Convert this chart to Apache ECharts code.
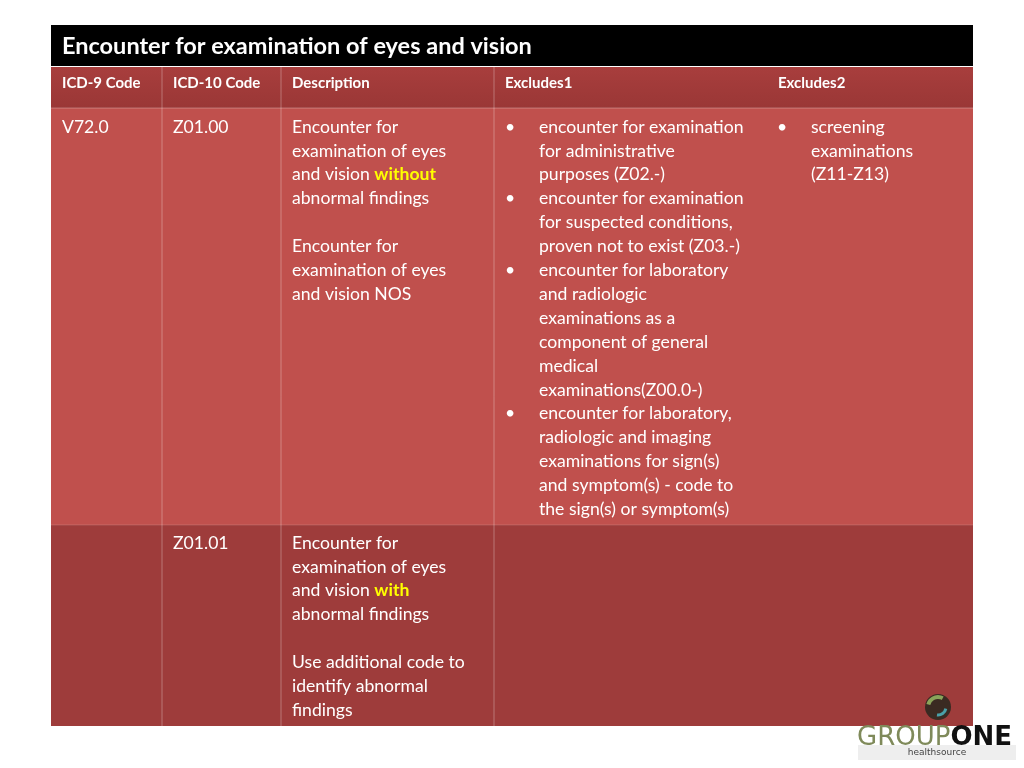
<!DOCTYPE html>
<html lang="en">
<head>
    <meta charset="UTF-8">
    <title>Encounter for examination of eyes and vision</title>
    <script src="https://cdn.jsdelivr.net/npm/echarts@6.0.0/dist/echarts.min.js"></script>
</head>
<body style="margin:0;background:#fff;">
<div id="main" style="width:1024px;height:768px;"></div>
<script type="text/javascript">
    var title = 'Encounter for examination of eyes and vision';
    var headers = ['ICD-9 Code', 'ICD-10 Code', 'Description', 'Excludes1', 'Excludes2'];
    var colX = [51, 162, 281, 494, 767, 973];
    // {y|...} marks the yellow words
    var row1 = {
        icd9: ['V72.0'],
        icd10: ['Z01.00'],
        desc: ['Encounter for', 'examination of eyes', 'and vision {y|without}', 'abnormal findings', '',
            'Encounter for', 'examination of eyes', 'and vision NOS'],
        excl1: [
            ['encounter for examination', 'for administrative', 'purposes (Z02.-)'],
            ['encounter for examination', 'for suspected conditions,', 'proven not to exist (Z03.-)'],
            ['encounter for laboratory', 'and radiologic', 'examinations as a', 'component of general', 'medical', 'examinations(Z00.0-)'],
            ['encounter for laboratory,', 'radiologic and imaging', 'examinations for sign(s)', 'and symptom(s) - code to', 'the sign(s) or symptom(s)']
        ],
        excl2: [['screening', 'examinations', '(Z11-Z13)']]
    };
    var row2 = {
        icd9: [],
        icd10: ['Z01.01'],
        desc: ['Encounter for', 'examination of eyes', 'and vision {y|with}', 'abnormal findings', '',
            'Use additional code to', 'identify abnormal', 'findings'],
        excl1: [],
        excl2: []
    };

    var chart = echarts.init(document.getElementById('main'));
    var FONT = 'Lato';
    var FS = 17.6;
    var LH = 23.9;
    var els = [];

    function rect(x, y, w, h, fill) {
        els.push({type: 'rect', shape: {x: x, y: y, width: w, height: h}, style: {fill: fill}});
    }
    function line(x1, y1, x2, y2, c) {
        els.push({type: 'line', shape: {x1: x1, y1: y1, x2: x2, y2: y2}, style: {stroke: c, lineWidth: 1}});
    }
    function text(x, y, lines) {
        els.push({type: 'text', x: x, y: y, style: {
            text: lines.join('\n'), fill: '#fff', font: FS + 'px ' + FONT, lineHeight: LH,
            rich: {y: {fill: '#ffff00', fontWeight: 'bold', fontSize: FS, fontFamily: FONT, lineHeight: LH}}
        }});
    }
    function bullets(x, y, groups) {
        var yy = y;
        groups.forEach(function (g) {
            els.push({type: 'text', x: x - 2, y: yy, style: {text: '•', fill: '#fff', font: FS + 'px ' + FONT, lineHeight: LH}});
            text(x + 32, yy, g);
            yy += g.length * LH;
        });
    }

    // backgrounds
    rect(51, 25, 922, 41, '#000');
    els.push({type: 'rect', shape: {x: 51, y: 67, width: 922, height: 41}, style: {
        fill: new echarts.graphic.LinearGradient(0, 0, 0, 1, [{offset: 0, color: '#a83e3d'}, {offset: 1, color: '#9a3736'}])}});
    rect(51, 108, 922, 417, '#c0504d');
    rect(51, 525, 922, 201, '#9e3c3b');
    // column separators (none between Excludes1 and Excludes2)
    for (var i = 1; i < colX.length - 2; i++) {
        line(colX[i], 67, colX[i], 726, 'rgba(255,255,255,0.3)');
    }
    line(51, 108, 973, 108, 'rgba(255,255,255,0.3)');
    line(51, 525, 973, 525, 'rgba(255,255,255,0.15)');

    els.push({type: 'text', x: 62, y: 46, style: {text: title, fill: '#fff', font: 'bold 23.5px ' + FONT, verticalAlign: 'middle'}});
    headers.forEach(function (h, i) {
        var x = i < 4 ? colX[i] + 11 : 778;
        if (i === 3) x = 505;
        els.push({type: 'text', x: x, y: 83, style: {text: h, fill: '#fff', font: 'bold 15px ' + FONT, verticalAlign: 'middle'}});
    });

    [[row1, 115], [row2, 531]].forEach(function (r) {
        var d = r[0], y = r[1];
        text(62, y, d.icd9);
        text(173, y, d.icd10);
        text(292, y, d.desc);
        bullets(507, y, d.excl1);
        bullets(779, y, d.excl2);
    });

    // logo
    els.push({type: 'circle', shape: {cx: 938, cy: 707, r: 13}, style: {fill: '#3a2a22'}});
    els.push({type: 'arc', shape: {cx: 938, cy: 707, r: 10, startAngle: 3.4, endAngle: 5.2}, style: {stroke: '#8aa35a', lineWidth: 4, fill: null}});
    els.push({type: 'arc', shape: {cx: 938, cy: 707, r: 8, startAngle: 0.2, endAngle: 1.7}, style: {stroke: '#4aa0a8', lineWidth: 3, fill: null}});
    els.push({type: 'rect', shape: {x: 858, y: 745, width: 158, height: 15}, style: {fill: '#eeeeee'}});
    els.push({type: 'text', x: 857, y: 738, style: {text: '{a|GROUP}{b|ONE}', verticalAlign: 'middle',
        rich: {a: {fill: '#7f8a5a', fontSize: 26, fontFamily: 'DejaVu Sans'},
               b: {fill: '#111', fontSize: 26, fontWeight: 'bold', fontFamily: 'DejaVu Sans'}}}});
    els.push({type: 'text', x: 937, y: 753, style: {text: 'healthsource', fill: '#444', font: '9px DejaVu Sans', align: 'center', verticalAlign: 'middle'}});

    chart.setOption({graphic: {elements: els}});
</script>
</body>
</html>
